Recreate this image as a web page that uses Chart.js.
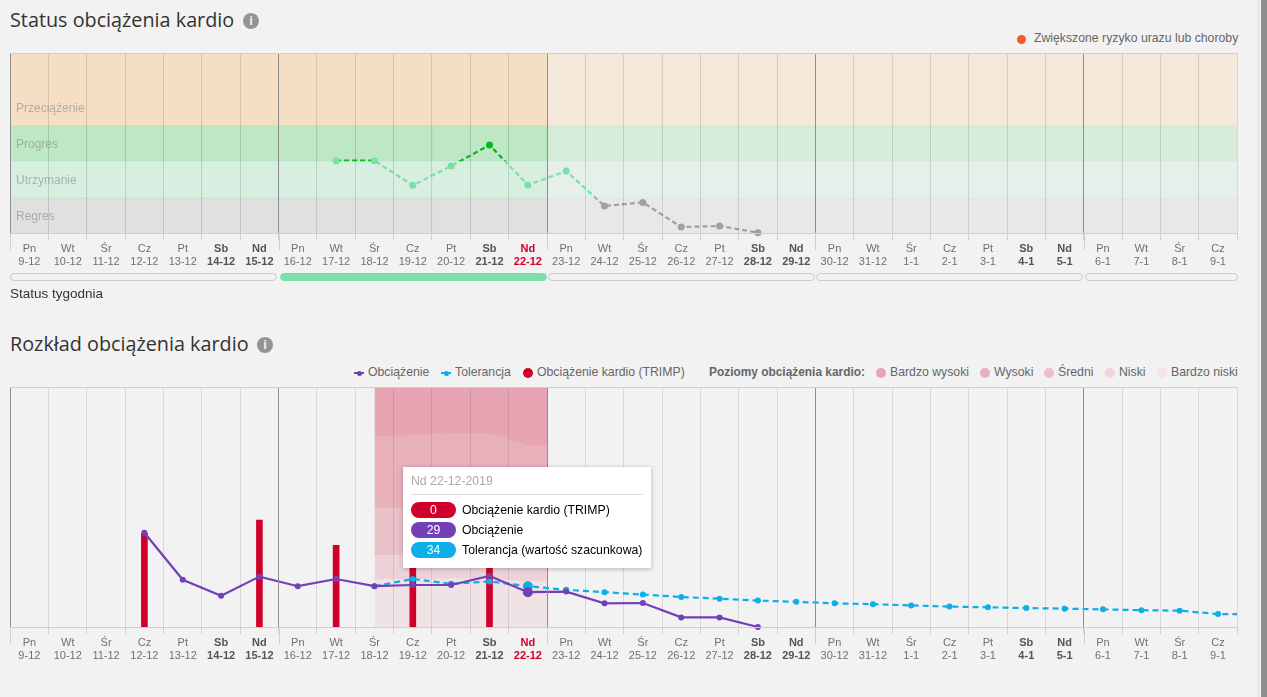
<!DOCTYPE html>
<html lang="pl">
<head>
<meta charset="utf-8">
<title>Obciążenie kardio</title>
<script src="https://cdn.jsdelivr.net/npm/chart.js@4"></script>
<style>
  html, body { margin: 0; height: 100%; background: #f2f2f2; overflow: hidden; }
  body { position: relative; width: 1267px; height: 697px; font-family: "Liberation Sans", sans-serif; }
  canvas { position: absolute; left: 0; }
  .abs { position: absolute; white-space: nowrap; }
  .title { font: 19.8px "Open Sans", sans-serif; color: #333; line-height: 26px; }
  .info { width: 16px; height: 16px; border-radius: 50%; background: #949494; color: #f2f2f2; font: bold 13px/16px "Liberation Sans", sans-serif; text-align: center; }
  .lg { font-size: 12.25px; line-height: 14px; color: #666; }
  .dot { width: 9px; height: 9px; border-radius: 50%; }
  .bandname { font-size: 12px; line-height: 14px; color: rgba(130,130,130,.55); left: 16px; }
  .marker { width: 10px; height: 2px; }
  .marker i { position: absolute; left: 2.5px; top: -1.5px; width: 5px; height: 5px; border-radius: 50%; background: inherit; }
  #tip { left: 403px; top: 467px; width: 248px; height: 101px; background: #fff; box-shadow: 0 1px 5px rgba(0,0,0,.25); }
  #tip .head { position: absolute; left: 8px; top: 7px; width: 232px; height: 20px; border-bottom: 1px solid #ddd; font-size: 12.25px; line-height: 14px; color: #aaa; }
  #tip .pill { position: absolute; left: 8px; width: 45px; height: 16px; border-radius: 8px; color: #fff; font-size: 12.25px; line-height: 16px; text-align: center; }
  #tip .txt { position: absolute; left: 59px; font-size: 12.25px; line-height: 16px; color: #000; }
  #sb1 { left: 1258px; top: 0; width: 1px; height: 697px; background: #ddd; }
  #sb2 { left: 1261px; top: 0; width: 6px; height: 697px; background: #8f8f8f; }
</style>
</head>
<body>
<div class="abs title" style="left:10px;top:7px">Status obciążenia kardio</div>
<div class="abs info" style="left:243px;top:13px">i</div>
<div class="abs dot" style="left:1017px;top:35px;background:#f5582a"></div>
<div class="abs lg" style="left:1034px;top:31px">Zwiększone ryzyko urazu lub choroby</div>

<canvas id="statusChart" width="1258" height="245" style="top:43px"></canvas>
<div class="abs bandname" style="top:101px">Przeciążenie</div>
<div class="abs bandname" style="top:137px">Progres</div>
<div class="abs bandname" style="top:173px">Utrzymanie</div>
<div class="abs bandname" style="top:209px">Regres</div>
<div class="abs" style="left:10px;top:285px;font-size:13.5px;line-height:17px;color:#333">Status tygodnia</div>

<div class="abs title" style="left:10px;top:331px">Rozkład obciążenia kardio</div>
<div class="abs info" style="left:257px;top:337px">i</div>

<div class="abs marker" style="left:354px;top:372px;background:#7440b8"><i></i></div>
<div class="abs lg" style="left:368px;top:365px">Obciążenie</div>
<div class="abs marker" style="left:441px;top:372px;background:#0eaee8"><i></i></div>
<div class="abs lg" style="left:455px;top:365px">Tolerancja</div>
<div class="abs dot" style="left:523px;top:368px;width:10px;height:10px;background:#d0002a"></div>
<div class="abs lg" style="left:537px;top:365px">Obciążenie kardio (TRIMP)</div>
<div class="abs lg" style="left:709px;top:365px;font-size:11.9px;font-weight:bold">Poziomy obciążenia kardio:</div>
<div class="abs dot" style="left:876px;top:368px;width:10px;height:10px;background:#e9a4b3"></div>
<div class="abs lg" style="left:890px;top:365px">Bardzo wysoki</div>
<div class="abs dot" style="left:980px;top:368px;width:10px;height:10px;background:#e9b1be"></div>
<div class="abs lg" style="left:994px;top:365px">Wysoki</div>
<div class="abs dot" style="left:1044px;top:368px;width:10px;height:10px;background:#ecc0ca"></div>
<div class="abs lg" style="left:1058px;top:365px">Średni</div>
<div class="abs dot" style="left:1105px;top:368px;width:10px;height:10px;background:#f0d4db"></div>
<div class="abs lg" style="left:1119px;top:365px">Niski</div>
<div class="abs dot" style="left:1157px;top:368px;width:10px;height:10px;background:#f3e4e8"></div>
<div class="abs lg" style="left:1171px;top:365px">Bardzo niski</div>

<canvas id="loadChart" width="1258" height="295" style="top:377px"></canvas>

<div class="abs" id="tip">
  <div class="head">Nd 22-12-2019</div>
  <div class="pill" style="top:35px;background:#d0002a">0</div>
  <div class="txt" style="top:35px">Obciążenie kardio (TRIMP)</div>
  <div class="pill" style="top:55px;background:#7440b8">29</div>
  <div class="txt" style="top:55px">Obciążenie</div>
  <div class="pill" style="top:75px;background:#0eaee8">34</div>
  <div class="txt" style="top:75px">Tolerancja (wartość szacunkowa)</div>
</div>
<div class="abs" id="sb1"></div>
<div class="abs" id="sb2"></div>

<script>
// Osie: dni i daty
const days = ['Pn','Wt','Śr','Cz','Pt','Sb','Nd','Pn','Wt','Śr','Cz','Pt','Sb','Nd','Pn','Wt','Śr','Cz','Pt','Sb','Nd','Pn','Wt','Śr','Cz','Pt','Sb','Nd','Pn','Wt','Śr','Cz'];
const dates = ['9-12','10-12','11-12','12-12','13-12','14-12','15-12','16-12','17-12','18-12','19-12','20-12','21-12','22-12','23-12','24-12','25-12','26-12','27-12','28-12','29-12','30-12','31-12','1-1','2-1','3-1','4-1','5-1','6-1','7-1','8-1','9-1'];
const todayIndex = 13;

// Status: strefy (skala 0-100) i wartosci dzienne
const regresTop = 19.4;
const utrzymanieTop = 40;
const progresTop = 59.4;
const przeciazenieTop = 100;
const statusValues = [null,null,null,null,null,null,null,null,40.2,40.2,26.5,37.2,48.9,26.7,34.4,15,17,3.3,3.9,0.2,null,null,null,null,null,null,null,null,null,null,null,null];
const weekStatus = [false,true,false,false,false];

// Rozklad obciazenia
const trimp = [null,null,null,78,null,null,89,null,68,null,60,null,60,null,null,null,null,null,null,null,null,null,null,null,null,null,null,null,null,null,null,null];
const load = [null,null,null,78.6,39.4,26,42,34,40,34,35,35,42.5,29,29.5,19.7,20,8,8,0,null,null,null,null,null,null,null,null,null,null,null,null];
const tolerance = [null,null,null,null,null,null,null,null,null,34,40,36,38,34,31,29,27,25,23.6,22,21,19.7,19,18,17,16.4,15.8,15.3,14.7,14,13.6,10.8];
const toleranceTail = 10.8;

// Poziomy obciazenia: gorna granica kazdego poziomu od 18-12 do 22-12
const levelX = [9,10,11,12,13,13.5];
const levelVeryHigh = [200,200,200,200,200,200];
const levelHigh = [159,159.6,161,161,151,151];
const levelMedium = [99.4,99.4,100,100,94,94];
const levelLow = [60,60,60.5,60.5,57,57];
const levelVeryLow = [40,40,40.5,40.5,38,38];

const WEEK = '#8f8f8f';
const weekEdge = i => i % 7 === 0;
const labels = days.map((d, i) => [d, dates[i]]);
const isWeekend = i => days[i] === 'Sb' || days[i] === 'Nd';

function xAxis(height) {
    return {
        offset: true,
        afterFit: s => { s.height = height; },
        border: { z: 1, color: '#cfcfcf' },
        grid: {
            z: 1,
            color: c => (c.index !== undefined && weekEdge(c.index)) ? WEEK : 'rgba(0,0,0,.1)',
            tickColor: '#d0d0d0',
            tickLength: 7
        },
        ticks: {
            autoSkip: false,
            maxRotation: 0,
            padding: 2,
            font: c => ({ family: '"Liberation Sans"', size: 11, lineHeight: 1.18, weight: isWeekend(c.index) ? 'bold' : 'normal' }),
            color: c => c.index === todayIndex ? '#d0002a' : isWeekend(c.index) ? '#555' : '#707070'
        }
    };
}

// Gorna ramka i dluzsze kreski na granicy tygodni
const framePlugin = {
    id: 'frame',
    afterDraw(chart) {
        const { ctx, chartArea, scales } = chart;
        const x = scales.x;
        ctx.save();
        ctx.strokeStyle = '#d0d0d0';
        ctx.lineWidth = 1;
        ctx.beginPath();
        ctx.moveTo(chartArea.left, Math.round(chartArea.top) + 0.5);
        ctx.lineTo(chartArea.right, Math.round(chartArea.top) + 0.5);
        for (let i = 0; i < labels.length; i += 7) {
            const edge = Math.round(x.getPixelForValue(i) - (x.getPixelForValue(1) - x.getPixelForValue(0)) / 2) + 0.5;
            ctx.moveTo(edge, chartArea.bottom);
            ctx.lineTo(edge, chartArea.bottom + 17);
        }
        ctx.stroke();
        ctx.restore();
    }
};

// Paski statusu tygodnia pod osia
const weekBarsPlugin = {
    id: 'weekBars',
    afterDraw(chart) {
        const { ctx, chartArea, scales } = chart;
        const x = scales.x;
        const step = x.getPixelForValue(1) - x.getPixelForValue(0);
        const top = chartArea.bottom + 40.5;
        weekStatus.forEach((on, w) => {
            const last = w === weekStatus.length - 1;
            const from = x.getPixelForValue(w * 7) - step / 2;
            const to = last ? chartArea.right : x.getPixelForValue(w * 7 + 6) + step / 2;
            ctx.beginPath();
            ctx.roundRect(Math.round(from) + (w ? 1.5 : 0.5), top, to - from - (last ? 1.5 : 2.5), 7, 4);
            ctx.fillStyle = on ? '#78e0a8' : '#f2f2f2';
            ctx.fill();
            ctx.strokeStyle = on ? '#78e0a8' : '#cccccc';
            ctx.stroke();
        });
    }
};

const current = c => c.dataIndex <= todayIndex;
const bands = [
    { low: 0, high: regresTop, strong: 'rgba(0,0,0,.074)', weak: 'rgba(0,0,0,.041)' },
    { low: regresTop, high: utrzymanieTop, strong: 'rgba(100,220,150,.18)', weak: 'rgba(100,220,150,.085)' },
    { low: utrzymanieTop, high: progresTop, strong: 'rgba(100,210,120,.366)', weak: 'rgba(100,210,120,.19)' },
    { low: progresTop, high: przeciazenieTop, strong: 'rgba(246,200,140,.45)', weak: 'rgba(246,200,140,.23)' }
];

function statusLineColor(c) {
    const { chart } = c;
    if (!chart.chartArea) return '#78e0a8';
    const y = chart.scales.y;
    const g = chart.ctx.createLinearGradient(0, y.top, 0, y.bottom);
    const a = 1 - utrzymanieTop / 100;
    const b = 1 - regresTop / 100;
    g.addColorStop(0, '#00b81f');
    g.addColorStop(a, '#00b81f');
    g.addColorStop(a, '#78e0a8');
    g.addColorStop(b, '#78e0a8');
    g.addColorStop(b, '#a0a0a0');
    g.addColorStop(1, '#a0a0a0');
    return g;
}

new Chart(document.getElementById('statusChart'), {
    type: 'bar',
    data: {
        labels,
        datasets: [
            {
                type: 'line',
                data: statusValues,
                borderColor: statusLineColor,
                borderWidth: 2.2,
                borderDash: [5, 3],
                tension: 0,
                clip: false,
                pointRadius: 3.5,
                pointBorderWidth: 0,
                pointBackgroundColor: c => c.raw > 42 ? '#00b81f' : c.raw > regresTop ? '#78e0a8' : '#a0a0a0',
                order: 0
            },
            ...bands.map(b => ({
                data: labels.map(() => [b.low, b.high]),
                backgroundColor: c => current(c) ? b.strong : b.weak,
                barPercentage: 1,
                categoryPercentage: 1,
                grouped: false,
                order: 5
            }))
        ]
    },
    options: {
        responsive: false,
        animation: false,
        layout: { padding: { left: 10.2, right: 20.8, top: 10 } },
        plugins: { legend: { display: false }, tooltip: { enabled: false } },
        scales: {
            x: xAxis(55),
            y: { display: false, min: 0, max: 100 }
        }
    },
    plugins: [framePlugin, weekBarsPlugin]
});

const levelLine = (values, color, fill) => ({
    type: 'line',
    data: levelX.map((x, i) => ({ x, y: values[i] })),
    xAxisID: 'xBand',
    borderWidth: 0,
    pointRadius: 0,
    backgroundColor: color,
    tension: 0,
    fill,
    order: 5
});

new Chart(document.getElementById('loadChart'), {
    type: 'bar',
    data: {
        labels,
        datasets: [
            {
                type: 'line',
                data: load,
                borderColor: '#7440b8',
                backgroundColor: '#7440b8',
                borderWidth: 2.2,
                tension: 0,
                clip: false,
                pointBorderWidth: 0,
                pointRadius: c => c.dataIndex === todayIndex ? 5 : 3,
                order: 0
            },
            {
                type: 'line',
                data: tolerance.map((y, i) => ({ x: i, y })).concat({ x: 31.5, y: toleranceTail }),
                xAxisID: 'xBand',
                borderColor: '#0eaee8',
                backgroundColor: '#0eaee8',
                borderWidth: 2.2,
                borderDash: [6, 4],
                tension: 0,
                pointBorderWidth: 0,
                pointRadius: c => c.dataIndex === todayIndex ? 5 : c.dataIndex === tolerance.length ? 0 : 3,
                order: 1
            },
            {
                data: trimp,
                backgroundColor: '#d0002a',
                barThickness: 6,
                grouped: false,
                order: 2
            },
            levelLine(levelVeryHigh, 'rgba(208,0,42,.32)', '+1'),
            levelLine(levelHigh, 'rgba(208,0,42,.27)', '+1'),
            levelLine(levelMedium, 'rgba(208,0,42,.205)', '+1'),
            levelLine(levelLow, 'rgba(208,0,42,.124)', '+1'),
            levelLine(levelVeryLow, 'rgba(208,0,42,.058)', 'origin')
        ]
    },
    options: {
        responsive: false,
        animation: false,
        layout: { padding: { left: 10.2, right: 20.8, top: 10 } },
        plugins: { legend: { display: false }, tooltip: { enabled: false } },
        scales: {
            x: xAxis(45),
            xBand: { type: 'linear', offset: false, display: false, min: -0.5, max: 31.5 },
            y: { display: false, min: 0, max: 200 }
        }
    },
    plugins: [framePlugin]
});
</script>
</body>
</html>
